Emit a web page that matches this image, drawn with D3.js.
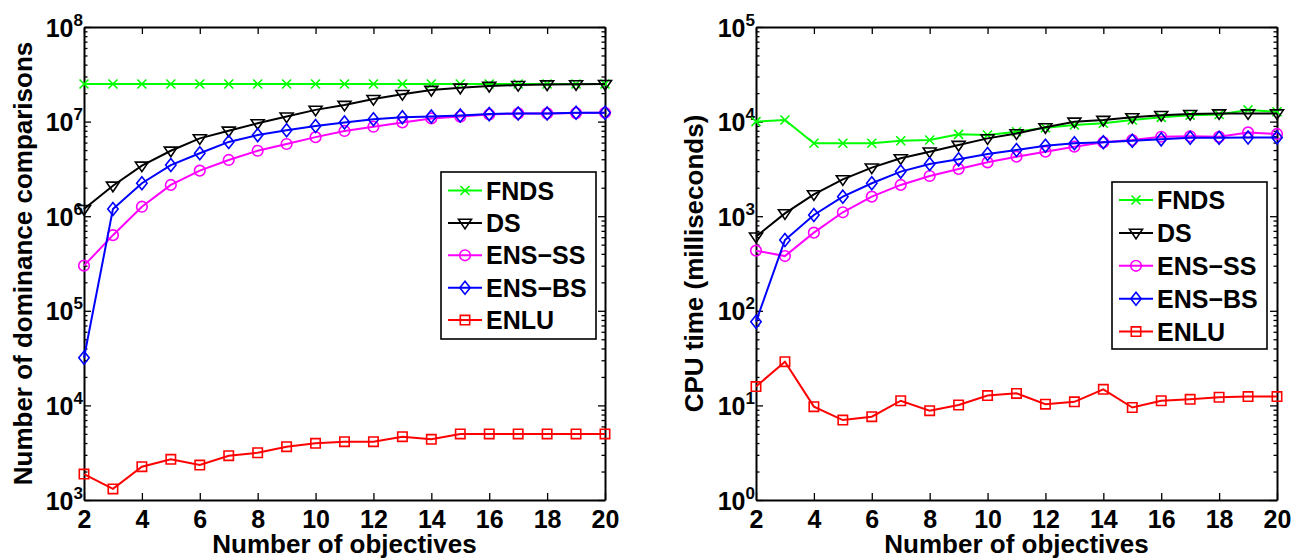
<!DOCTYPE html>
<html><head><meta charset="utf-8">
<script src="https://cdn.jsdelivr.net/npm/d3@7"></script>
<style>
html,body{margin:0;padding:0;background:#fff;}
svg{display:block;font-family:"Liberation Sans",Arial,Helvetica,sans-serif;font-weight:bold;}
</style></head>
<body>
<svg id="chart" width="1299" height="560"></svg>
<script>
// ---------- data ----------
const objectives = [2,3,4,5,6,7,8,9,10,11,12,13,14,15,16,17,18,19,20];
const seriesNames = ["FNDS","DS","ENS\u2212SS","ENS\u2212BS","ENLU"];

// left panel: number of dominance comparisons
const cmpFNDS  = [2.5e7,2.5e7,2.5e7,2.5e7,2.5e7,2.5e7,2.5e7,2.5e7,2.5e7,2.5e7,2.5e7,2.5e7,2.5e7,2.5e7,2.5e7,2.5e7,2.5e7,2.5e7,2.5e7];
const cmpDS    = [1.19e6,2.1e6,3.42e6,4.92e6,6.65e6,8.0e6,9.6e6,1.13e7,1.33e7,1.5e7,1.73e7,1.95e7,2.16e7,2.28e7,2.38e7,2.43e7,2.47e7,2.48e7,2.49e7];
const cmpENSSS = [3.0e5,6.3e5,1.26e6,2.14e6,3.03e6,3.93e6,4.92e6,5.8e6,6.85e6,7.96e6,8.83e6,9.8e6,1.08e7,1.13e7,1.19e7,1.22e7,1.22e7,1.23e7,1.24e7];
const cmpENSBS = [3.19e4,1.19e6,2.23e6,3.47e6,4.63e6,6.1e6,7.2e6,8.1e6,8.98e6,9.8e6,1.06e7,1.11e7,1.13e7,1.16e7,1.2e7,1.22e7,1.22e7,1.24e7,1.24e7];
const cmpENLU  = [1880,1310,2250,2690,2340,2940,3160,3660,3970,4140,4140,4670,4380,4990,5000,5000,5000,5000,5000];

// right panel: CPU time (ms)
const cpuFNDS  = [1.0e4,1.04e4,5900,5900,5900,6280,6390,7330,7220,7820,8620,9200,9600,1.04e4,1.11e4,1.17e4,1.19e4,1.33e4,1.27e4];
const cpuDS    = [608,1070,1700,2450,3260,4090,4810,5660,6650,7500,8700,9980,1.04e4,1.11e4,1.17e4,1.2e4,1.22e4,1.22e4,1.22e4];
const cpuENSSS = [432,379,670,1100,1610,2140,2660,3160,3710,4260,4810,5430,6040,6390,6920,7000,6900,7690,7400];
const cpuENSBS = [76.7,560,1030,1610,2230,2960,3570,3990,4550,5000,5560,5900,6040,6280,6490,6760,6760,6800,6800];
const cpuENLU  = [15.8,29.0,9.7,7.0,7.6,11.2,8.8,10.1,12.7,13.4,10.3,10.9,14.8,9.5,11.2,11.6,12.2,12.4,12.4];

// tick labels
const xTickValues = [2,4,6,8,10,12,14,16,18,20];
const leftExponents = [3,4,5,6,7,8];
const rightExponents = [0,1,2,3,4,5];

const xTitle = "Number of objectives";
const leftYTitle = "Number of dominance comparisons";
const rightYTitle = "CPU time (milliseconds)";

// ---------- styles ----------
const colors = ["#00ff00","#000000","#ff00ff","#0000ff","#ff0000"];
const markers = ["x","tri","circle","diamond","square"];

function markerPath(type){
  switch(type){
    case "x": { const s=4.5; return `M${-s},${-s}L${s},${s}M${-s},${s}L${s},${-s}`; }
    case "tri": { const w=6.5,h=6; return `M${-w},${-h*0.6}L${w},${-h*0.6}L0,${h*1.0}Z`; }
    case "circle": { const r=5.3; return `M${r},0A${r},${r} 0 1,1 ${-r},0A${r},${r} 0 1,1 ${r},0Z`; }
    case "diamond": { const w=5.2,h=6.5; return `M0,${-h}L${w},0L0,${h}L${-w},0Z`; }
    case "square": { const s=4.7; return `M${-s},${-s}L${s},${-s}L${s},${s}L${-s},${s}Z`; }
  }
}

const svg = d3.select("#chart");
svg.append("rect").attr("width",1299).attr("height",560).attr("fill","#fff");

function panel(opts){
  const {left,right,top,bottom,domain,exps,series,ytitle,ytitleX,legend} = opts;
  const x = d3.scaleLinear().domain([2,20]).range([left,right]);
  const y = d3.scaleLog().domain(domain).range([bottom,top]);
  const g = svg.append("g");

  const minor = [];
  for(let e=exps[0]; e<exps[exps.length-1]; e++){
    for(let m=2;m<=9;m++) minor.push(m*Math.pow(10,e));
  }
  const major = exps.map(e=>Math.pow(10,e));

  const styleAxis = sel => {
    sel.selectAll("path.domain").attr("stroke","#000").attr("stroke-width",2);
    sel.selectAll(".tick line").attr("stroke","#000").attr("stroke-width",1.3);
  };

  // minor y ticks (left and right)
  g.append("g").attr("transform",`translate(${left},0)`)
    .call(d3.axisLeft(y).tickValues(minor).tickSizeInner(-3.5).tickSizeOuter(0).tickFormat(""))
    .call(styleAxis).call(s=>s.select("path.domain").remove());
  g.append("g").attr("transform",`translate(${right},0)`)
    .call(d3.axisRight(y).tickValues(minor).tickSizeInner(-3.5).tickSizeOuter(0).tickFormat(""))
    .call(styleAxis).call(s=>s.select("path.domain").remove());
  // major y ticks right
  g.append("g").attr("transform",`translate(${right},0)`)
    .call(d3.axisRight(y).tickValues(major).tickSizeInner(-7).tickSizeOuter(0).tickFormat(""))
    .call(styleAxis);
  // top x ticks
  g.append("g").attr("transform",`translate(0,${top})`)
    .call(d3.axisTop(x).tickValues(xTickValues).tickSizeInner(-7).tickSizeOuter(0).tickFormat(""))
    .call(styleAxis);
  // bottom x axis
  const xa = g.append("g").attr("transform",`translate(0,${bottom})`)
    .call(d3.axisBottom(x).tickValues(xTickValues).tickSizeInner(-7).tickSizeOuter(0).tickPadding(10).tickFormat(d3.format("d")))
    .call(styleAxis);
  xa.selectAll("text").attr("font-size",25).attr("font-weight","bold").attr("fill","#000")
    .attr("font-family",'"Liberation Sans",Arial,sans-serif');
  // left y axis with 10^k labels
  const ya = g.append("g").attr("transform",`translate(${left},0)`)
    .call(d3.axisLeft(y).tickValues(major).tickSizeInner(-7).tickSizeOuter(0).tickPadding(1).tickFormat(""))
    .call(styleAxis);
  ya.selectAll(".tick text").each(function(d){
    const t = d3.select(this).attr("font-size",25).attr("font-weight","bold").attr("fill","#000")
      .attr("font-family",'"Liberation Sans",Arial,sans-serif').attr("dy","0.36em");
    t.text(null);
    t.append("tspan").text("10");
    t.append("tspan").attr("font-size",17).attr("dy",-11).text(String(Math.round(Math.log10(d))));
  });

  // lines and markers
  const line = d3.line().x(d=>x(d[0])).y(d=>y(d[1]));
  series.forEach((vals,i)=>{
    const pts = objectives.map((o,j)=>[o,vals[j]]);
    g.append("path").datum(pts).attr("d",line).attr("fill","none")
      .attr("stroke",colors[i]).attr("stroke-width",2);
    g.append("g").selectAll("path").data(pts).join("path")
      .attr("transform",d=>`translate(${x(d[0])},${y(d[1])})`)
      .attr("d",markerPath(markers[i])).attr("fill","none")
      .attr("stroke",colors[i]).attr("stroke-width",1.6);
  });

  // legend
  const lg = g.append("g");
  lg.append("rect").attr("x",legend.x0).attr("y",legend.y0)
    .attr("width",legend.x1-legend.x0).attr("height",legend.y1-legend.y0)
    .attr("fill","#fff").attr("stroke","#000").attr("stroke-width",1.6);
  seriesNames.forEach((name,i)=>{
    const yy = legend.rowY + i*legend.step;
    lg.append("line").attr("x1",legend.x0+7).attr("x2",legend.x0+41).attr("y1",yy).attr("y2",yy)
      .attr("stroke",colors[i]).attr("stroke-width",2);
    lg.append("path").attr("transform",`translate(${legend.x0+24},${yy})`)
      .attr("d",markerPath(markers[i])).attr("fill","none").attr("stroke",colors[i]).attr("stroke-width",1.6);
    lg.append("text").attr("x",legend.x0+45).attr("y",yy).attr("dy","0.36em")
      .attr("font-size",25).attr("fill","#000").text(name);
  });

  // titles
  g.append("text").attr("x",(left+right)/2).attr("y",553).attr("text-anchor","middle")
    .attr("font-size",26).attr("fill","#000").text(xTitle);
  g.append("text").attr("transform",`translate(${ytitleX},${(top+bottom)/2}) rotate(-90)`)
    .attr("text-anchor","middle").attr("font-size",26).attr("fill","#000").text(ytitle);
}

panel({left:84,right:605,top:27,bottom:500,domain:[1e3,1e8],exps:leftExponents,
  series:[cmpFNDS,cmpDS,cmpENSSS,cmpENSBS,cmpENLU],ytitle:leftYTitle,ytitleX:32,
  legend:{x0:441,x1:596,y0:172,y1:339,rowY:190.5,step:32.4}});
panel({left:756,right:1277,top:27,bottom:500,domain:[1e0,1e5],exps:rightExponents,
  series:[cpuFNDS,cpuDS,cpuENSSS,cpuENSBS,cpuENLU],ytitle:rightYTitle,ytitleX:703,
  legend:{x0:1112,x1:1267,y0:182,y1:349,rowY:200,step:32.9}});
</script>
</body></html>
